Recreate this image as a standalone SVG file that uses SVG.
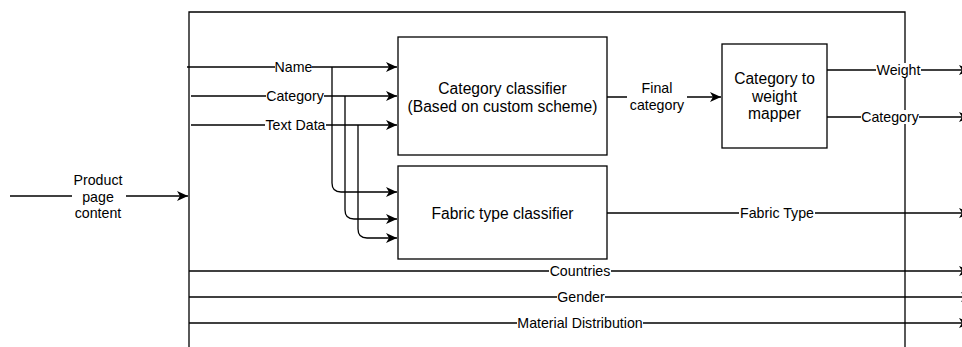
<svg xmlns="http://www.w3.org/2000/svg" width="962" height="347" viewBox="0 0 962 347">
  <style>
    .box { fill: #ffffff; stroke: #000000; stroke-width: 1.3; }
    .frame { fill: none; stroke: #000000; stroke-width: 1.3; }
    .edge { fill: none; stroke: #000000; stroke-width: 1.3; }
    .lbl { font-family: "Liberation Sans", Arial, sans-serif; font-size: 14.2px; fill: #000000; text-anchor: middle; dominant-baseline: central; }
    .big { font-family: "Liberation Sans", Arial, sans-serif; font-size: 15.6px; fill: #000000; text-anchor: middle; dominant-baseline: central; }
    .bg { fill: #ffffff; }
  </style>
  <defs>
    <marker id="arrow" viewBox="0 0 11 10" refX="11" refY="5" markerWidth="11" markerHeight="10" markerUnits="userSpaceOnUse" orient="auto">
      <path d="M0,0 L11,5 L0,10 L3,5 Z" fill="#000000"/>
    </marker>
  </defs>

  <rect width="962" height="347" fill="#ffffff"/>

  <!-- outer frame, open at the bottom -->
  <path class="frame" d="M189,347 L189,12 L905,12 L905,347"/>

  <g id="connectors">
    <!-- input -->
    <line class="edge" x1="10" y1="196" x2="188" y2="196" marker-end="url(#arrow)"/>
    <!-- inputs to category classifier -->
    <line class="edge" x1="187" y1="67" x2="397" y2="67" marker-end="url(#arrow)"/>
    <line class="edge" x1="191" y1="96" x2="397" y2="96" marker-end="url(#arrow)"/>
    <line class="edge" x1="191" y1="125" x2="397" y2="125" marker-end="url(#arrow)"/>
    <!-- branches to fabric type classifier -->
    <path class="edge" d="M332,67 L332,183 Q332,192 341,192 L397,192" marker-end="url(#arrow)"/>
    <path class="edge" d="M345,96 L345,210 Q345,219 354,219 L397,219" marker-end="url(#arrow)"/>
    <path class="edge" d="M358,125 L358,229 Q358,238 367,238 L397,238" marker-end="url(#arrow)"/>
    <!-- final category -->
    <line class="edge" x1="607" y1="97" x2="721" y2="97" marker-end="url(#arrow)"/>
    <!-- outputs -->
    <line class="edge" x1="827" y1="70" x2="970" y2="70" marker-end="url(#arrow)"/>
    <line class="edge" x1="827" y1="117" x2="970" y2="117" marker-end="url(#arrow)"/>
    <line class="edge" x1="607" y1="213" x2="970" y2="213" marker-end="url(#arrow)"/>
    <line class="edge" x1="189" y1="271" x2="970" y2="271" marker-end="url(#arrow)"/>
    <line class="edge" x1="189" y1="297" x2="972" y2="297" marker-end="url(#arrow)"/>
    <line class="edge" x1="189" y1="323" x2="970" y2="323" marker-end="url(#arrow)"/>
  </g>

  <g id="edge-labels">
    <rect class="bg" x="72" y="170" width="54" height="52"/>
    <text class="lbl"><tspan x="98" y="180">Product</tspan><tspan x="98" y="197">page</tspan><tspan x="98" y="213">content</tspan></text>

    <rect class="bg" x="275" y="60" width="37" height="14"/>
    <text class="lbl" x="293.5" y="67">Name</text>
    <rect class="bg" x="266" y="89" width="58" height="14"/>
    <text class="lbl" x="295" y="96">Category</text>
    <rect class="bg" x="265" y="118" width="61" height="14"/>
    <text class="lbl" x="295.5" y="125">Text Data</text>

    <rect class="bg" x="627" y="79" width="60" height="34"/>
    <text class="lbl"><tspan x="657" y="88">Final</tspan><tspan x="657" y="105">category</tspan></text>

    <rect class="bg" x="876" y="63" width="45" height="14"/>
    <text class="lbl" x="898.5" y="70">Weight</text>
    <rect class="bg" x="861" y="110" width="58" height="14"/>
    <text class="lbl" x="890" y="117">Category</text>

    <rect class="bg" x="739" y="206" width="76" height="14"/>
    <text class="lbl" x="777" y="213">Fabric Type</text>

    <rect class="bg" x="549" y="264" width="62" height="14"/>
    <text class="lbl" x="580" y="271">Countries</text>
    <rect class="bg" x="557" y="290" width="48" height="14"/>
    <text class="lbl" x="581" y="297">Gender</text>
    <rect class="bg" x="517" y="316" width="126" height="14"/>
    <text class="lbl" x="580" y="323">Material Distribution</text>
  </g>

  <g id="category-classifier">
    <rect class="box" x="398" y="37" width="209" height="118"/>
    <text class="big"><tspan x="502.5" y="88">Category classifier</tspan><tspan x="502.5" y="106">(Based on custom scheme)</tspan></text>
  </g>

  <g id="fabric-type-classifier">
    <rect class="box" x="398" y="166" width="209" height="93"/>
    <text class="big" x="502.5" y="213">Fabric type classifier</text>
  </g>

  <g id="category-weight-mapper">
    <rect class="box" x="722" y="44" width="105" height="104"/>
    <text class="big"><tspan x="774.5" y="78">Category to</tspan><tspan x="774.5" y="96">weight</tspan><tspan x="774.5" y="113">mapper</tspan></text>
  </g>
</svg>
